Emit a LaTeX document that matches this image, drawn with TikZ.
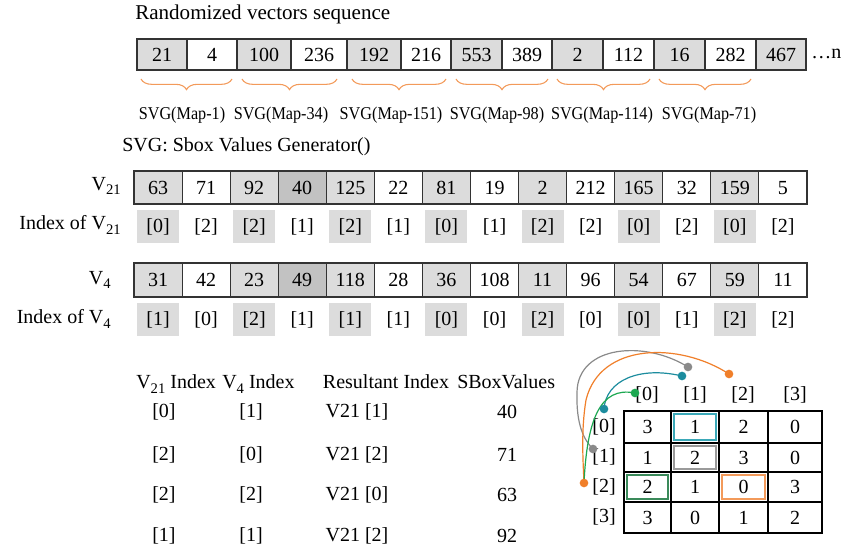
\documentclass[tikz,border=0pt]{standalone}
\usepackage{fontspec}
\setmainfont{Liberation Serif}
\newfontfamily\narrowserif[FakeStretch=0.9]{Liberation Serif}
\usetikzlibrary{decorations.pathreplacing}

\definecolor{cellgray}{HTML}{DCDCDC}
\definecolor{cellgraydk}{HTML}{C2C2C2}
\definecolor{braceorange}{HTML}{F39A5A}
\definecolor{curveorange}{HTML}{F07F2A}
\definecolor{curveteal}{HTML}{1C8C9E}
\definecolor{curvegreen}{HTML}{1DA851}
\definecolor{curvegray}{HTML}{8A8A8A}
\definecolor{hlgreen}{HTML}{3A8A5A}
\definecolor{hlteal}{HTML}{3AA8B8}
\definecolor{hlgray}{HTML}{9A9A9A}
\definecolor{hlorange}{HTML}{F39A5A}

% subscript set in text font
\newcommand\vsub[1]{\raisebox{-0.5ex}{\fontsize{11}{11}\selectfont #1}}

\begin{document}
\begin{tikzpicture}[x=0.75pt,y=-0.75pt,
  txt/.style={font=\fontsize{15}{18}\selectfont, inner sep=0pt},
  lbl/.style={font=\narrowserif\fontsize{13.5}{16}\selectfont, inner sep=0pt},
  cellbox/.style={draw=black!80, line width=0.8pt},
  bracestyle/.style={draw=braceorange, line width=0.8pt, decorate,
    decoration={brace, mirror, amplitude=8pt}},
  dot/.style={circle, fill=#1, inner sep=0pt, minimum size=6.5pt},
  link/.style={draw=#1, line width=0.9pt},
  hl/.style={draw=#1, line width=1.3pt}
]
\useasboundingbox (0,0) rectangle (844,548);

% ---------- randomized vector sequence ----------
\node[txt, font=\fontsize{15.8}{18}\selectfont, anchor=west] (title) at (135,14) {Randomized vectors sequence};
\foreach \v/\l/\r/\f [count=\i] in {
  21/137/187/cellgray, 4/187/237/white, 100/237/291/cellgray,
  236/291/347/white, 192/347/401/cellgray, 216/401/451/white,
  553/451/502/cellgray, 389/502/552/white, 2/552/603/cellgray,
  112/603/654/white, 16/654/705/cellgray, 282/705/756/white,
  467/756/806/cellgray} {
  \draw[cellbox, fill=\f] (\l,39) rectangle (\r,70);
  \node[txt] (seq\i) at ({(\l+\r)/2},55) {\v};
}
\node[txt, anchor=west] (seqn) at (811,54) {\textellipsis n};

% braces over each pair and their generator labels
\foreach \l/\r/\cx/\t [count=\i] in {
  141/232/182/SVG(Map-1), 242/337/281/SVG(Map-34),
  352/446/391/SVG(Map-151), 456/548/497/SVG(Map-98),
  557/650/602/SVG(Map-114), 659/751/709/SVG(Map-71)} {
  \draw[bracestyle] (\l,79) -- (\r,79);
  \node[lbl] (svg\i) at (\cx,115) {\t};
}
\node[txt, anchor=west] (svgdef) at (122,147) {SVG: Sbox Values Generator()};

% ---------- vector V21 and its indices ----------
\node[txt, anchor=east] (v21lab) at (121,186) {V\vsub{21}};
\node[txt, anchor=east] (i21lab) at (121,225) {Index of V\vsub{21}};
\foreach \v/\f [count=\i from 0] in {
  63/cellgray, 71/white, 92/cellgray, 40/cellgraydk, 125/cellgray,
  22/white, 81/cellgray, 19/white, 2/cellgray, 212/white,
  165/cellgray, 32/white, 159/cellgray, 5/white} {
  \pgfmathsetmacro\xl{134+48.07*\i}
  \pgfmathsetmacro\xr{134+48.07*(\i+1)}
  \draw[cellbox, fill=\f] (\xl,171) rectangle (\xr,204);
  \node[txt] (va\i) at ({(\xl+\xr)/2},188) {\v};
}
\foreach \v/\f [count=\i from 0] in {
  0/cellgray, 2/white, 2/cellgray, 1/white, 2/cellgray, 1/white,
  0/cellgray, 1/white, 2/cellgray, 2/white, 0/cellgray, 2/white,
  0/cellgray, 2/white} {
  \pgfmathsetmacro\xc{134+48.07*(\i+0.5)}
  \fill[\f] (\xc-21,210) rectangle (\xc+21,243);
  \node[txt] (ia\i) at (\xc,227) {[\v]};
}

% ---------- vector V4 and its indices ----------
\node[txt, anchor=east] (v4lab) at (111,280) {V\vsub{4}};
\node[txt, anchor=east] (i4lab) at (111,319) {Index of V\vsub{4}};
\foreach \v/\f [count=\i from 0] in {
  31/cellgray, 42/white, 23/cellgray, 49/cellgraydk, 118/cellgray,
  28/white, 36/cellgray, 108/white, 11/cellgray, 96/white,
  54/cellgray, 67/white, 59/cellgray, 11/white} {
  \pgfmathsetmacro\xl{134+48.07*\i}
  \pgfmathsetmacro\xr{134+48.07*(\i+1)}
  \draw[cellbox, fill=\f] (\xl,263) rectangle (\xr,297);
  \node[txt] (vb\i) at ({(\xl+\xr)/2},280) {\v};
}
\foreach \v/\f [count=\i from 0] in {
  1/cellgray, 0/white, 2/cellgray, 1/white, 1/cellgray, 1/white,
  0/cellgray, 0/white, 2/cellgray, 0/white, 0/cellgray, 1/white,
  2/cellgray, 2/white} {
  \pgfmathsetmacro\xc{134+48.07*(\i+0.5)}
  \fill[\f] (\xc-21,303) rectangle (\xc+21,336);
  \node[txt] (ib\i) at (\xc,320) {[\v]};
}

% ---------- lookup table ----------
\node[txt, anchor=base west] (h1) at (136,389) {V\vsub{21} Index};
\node[txt, anchor=base west] (h2) at (222,389) {V\vsub{4} Index};
\node[txt, anchor=base] (h3) at (386,389) {Resultant Index};
\node[txt, anchor=base west] (h4) at (457,389) {SBoxValues};
\foreach \a/\b/\c/\d/\y [count=\i] in {
  0/1/1/40/412, 2/0/2/71/455, 2/2/0/63/495, 1/1/2/92/536} {
  \node[txt] (ta\i) at (164,\y) {[\a]};
  \node[txt] (tb\i) at (251,\y) {[\b]};
  \node[txt] (tc\i) at (357,\y) {V21 [\c]};
  \node[txt] (td\i) at (507,\y) {\d};
}

% ---------- sbox grid ----------
\foreach \c/\x in {0/647,1/695,2/743,3/795}
  \node[txt] (col\c) at (\x,395) {[\c]};
\foreach \r/\y in {0/427,1/457,2/487,3/517}
  \node[txt] (row\r) at (604,\y) {[\r]};
\foreach \vals/\yt/\yb [count=\r from 0] in {
  {3,1,2,0}/411/443, {1,2,3,0}/443/472, {2,1,0,3}/472/502, {3,0,1,2}/502/533} {
  \foreach \v [count=\c from 0] in \vals {
    \pgfmathsetmacro\xl{{624,671,719,768,822}[\c]}
    \pgfmathsetmacro\xr{{624,671,719,768,822}[\c+1]}
    \draw[line width=0.8pt] (\xl,\yt) rectangle (\xr,\yb);
    \node[txt] (g\r\c) at ({(\xl+\xr)/2},{(\yt+\yb)/2}) {\v};
  }
}
% selected entries
\draw[hl=hlteal]   (674,414) rectangle (716,440);
\draw[hl=hlgray]   (674,446) rectangle (716,469);
\draw[hl=hlgreen]  (627,475) rectangle (668,499);
\draw[hl=hlorange] (722,475) rectangle (765,499);

% connector end points
\coordinate (cgray)   at (688,367);
\coordinate (corange) at (729,374);
\coordinate (cteal)   at (682,376);
\coordinate (cgreen)  at (635,393);
\coordinate (rteal)   at (604,409);
\coordinate (rgray)   at (593,449);
\coordinate (rorange) at (584,483);

% row/column links
\draw[link=curvegray]   (cgray) .. controls (645,340) and (578,345) .. (577,392)
                                .. controls (576,425) and (584,440) .. (rgray);
\draw[link=curveorange] (corange) .. controls (680,342) and (600,342) .. (586,400)
                                  .. controls (581,430) and (583,460) .. (rorange);
\draw[link=curveteal]   (cteal) .. controls (640,366) and (606,380) .. (rteal);
\draw[link=curvegreen]  (cgreen) .. controls (600,386) and (587,420) .. (rorange);

\foreach \p/\c in {cgray/curvegray, corange/curveorange, cteal/curveteal,
                   cgreen/curvegreen, rteal/curveteal, rgray/curvegray,
                   rorange/curveorange}
  \node[dot=\c] (dot-\p) at (\p) {};
\end{tikzpicture}
\end{document}
